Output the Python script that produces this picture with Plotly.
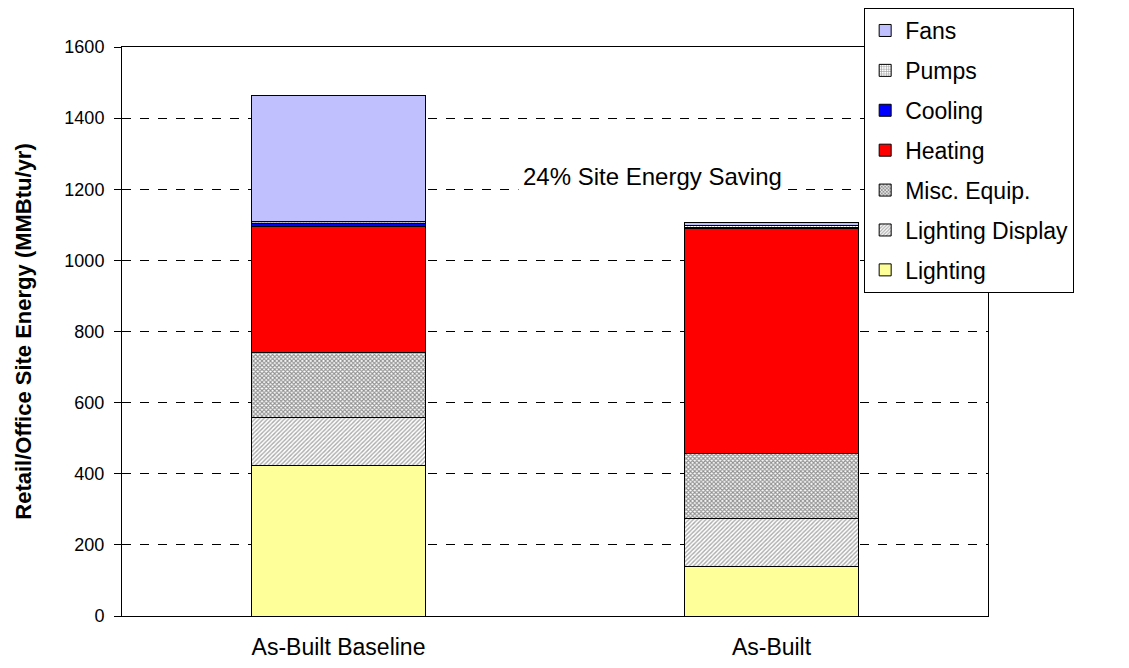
import plotly.graph_objects as go

categories = ["As-Built Baseline", "As-Built"]
series_names = ["Lighting", "Lighting Display", "Misc. Equip.", "Heating", "Cooling", "Pumps", "Fans"]
lighting = [422, 139]
lighting_display = [135, 134]
misc_equip = [183, 183]
heating = [355, 634]
cooling = [9, 2]
pumps = [4, 6]
fans = [357, 8]
y_ticks = [0, 200, 400, 600, 800, 1000, 1200, 1400, 1600]
saving_label = "24% Site Energy Saving"

values = [lighting, lighting_display, misc_equip, heating, cooling, pumps, fans]
styles = {
    "Lighting": dict(color="#FFFF99"),
    "Lighting Display": dict(color="white", pattern=dict(shape="/", fgcolor="#555555", bgcolor="white", size=3, solidity=0.45)),
    "Misc. Equip.": dict(color="white", pattern=dict(shape="x", fgcolor="#222222", bgcolor="white", size=3, solidity=0.6)),
    "Heating": dict(color="#FF0000"),
    "Cooling": dict(color="#0000FF"),
    "Pumps": dict(color="white", pattern=dict(shape="+", fgcolor="#333333", bgcolor="white", size=3, solidity=0.4)),
    "Fans": dict(color="#C0C0FF"),
}

fig = go.Figure()
n = len(series_names)
for i, (name, vals) in enumerate(zip(series_names, values)):
    st = styles[name]
    marker = dict(color=st["color"], line=dict(color="black", width=1))
    if "pattern" in st:
        marker["pattern"] = st["pattern"]
    fig.add_trace(go.Bar(name=name, x=categories, y=vals, marker=marker,
                         width=0.4, legendgroup=name, legendrank=n - i))

font = "Liberation Sans, Arial, sans-serif"
fig.update_layout(
    barmode="stack",
    width=1129, height=668,
    margin=dict(l=114, r=149, t=39, b=60, autoexpand=False),
    plot_bgcolor="white", paper_bgcolor="white",
    font=dict(family=font, size=18, color="black"),
    showlegend=True,
    legend=dict(
        traceorder="grouped", tracegroupgap=7,
        x=0.857, y=1.0685, xanchor="left", yanchor="top",
        bgcolor="white", bordercolor="black", borderwidth=1,
        font=dict(family=font, size=23, color="black"),
        itemwidth=30, entrywidth=232, entrywidthmode="pixels",
    ),
    xaxis=dict(showline=True, linecolor="black", linewidth=1, mirror=True,
               ticks="", tickfont=dict(size=23), showgrid=False, ticklabelstandoff=10),
    yaxis=dict(range=[0, 1600], tickvals=y_ticks, showline=True, linecolor="black",
               linewidth=1, mirror=True, ticks="outside", ticklen=7, tickcolor="black",
               ticklabelstandoff=6,
               tickfont=dict(size=18), showgrid=True, gridcolor="black", gridwidth=0.6,
               griddash="dash", zeroline=False,
               title=dict(text="<b>Retail/Office Site Energy (MMBtu/yr)</b>", font=dict(size=22), standoff=26)),
    annotations=[dict(text=saving_label, xref="paper", yref="y", x=0.613, y=1237,
                      showarrow=False, font=dict(size=24, family=font), bgcolor="white",
                      borderpad=4)],
)
fig.write_html("out.html")
